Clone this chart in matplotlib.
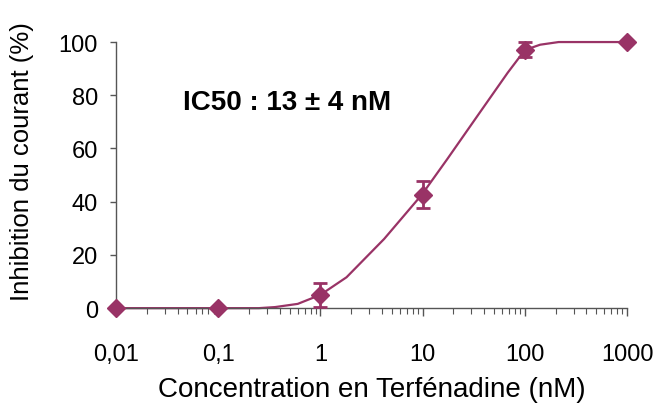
import numpy as np
import matplotlib.pyplot as plt
from matplotlib.ticker import LogLocator, FixedLocator, NullFormatter

plt.rcParams['font.family'] = ['Liberation Sans', 'DejaVu Sans']

# measured points
conc = [0.01, 0.1, 1, 10, 100, 1000]
inhib = [0, 0, 5, 42.6, 97.2, 100]
err = [0, 0, 4.4, 5.1, 3.0, 0]

# fitted curve
fit_conc = [0.01, 0.1, 0.25, 0.36, 0.6, 1.0, 1.8, 4.2, 9.8, 17.4, 34, 68, 100, 141, 214, 400, 1000]
fit_inhib = [0, 0, 0, 0.4, 1.6, 5, 11.6, 26, 42.6, 56, 72, 88.5, 97, 99, 100, 100, 100]

col = '#993366'
xticks = [0.01, 0.1, 1, 10, 100, 1000]
xticklabels = ['0,01', '0,1', '1', '10', '100', '1000']

fig = plt.figure(figsize=(6.65, 4.10), dpi=100)
ax = fig.add_axes([0.1744, 0.246, 0.7686, 0.649])

ax.plot(fit_conc, fit_inhib, color=col, lw=1.6, clip_on=False)
ax.errorbar(conc, inhib, yerr=err, fmt='D', color=col, ms=9, capsize=5,
            elinewidth=2, capthick=2, ecolor=col, clip_on=False, zorder=3)

ax.set_xscale('log')
ax.set_xlim(0.01, 1000)
ax.set_ylim(0, 100)
ax.xaxis.set_major_locator(FixedLocator(xticks))
ax.set_xticklabels(xticklabels)
ax.xaxis.set_minor_locator(LogLocator(base=10, subs=np.arange(2, 10)))
ax.xaxis.set_minor_formatter(NullFormatter())
ax.set_yticks([0, 20, 40, 60, 80, 100])

for s in ['top', 'right']:
    ax.spines[s].set_visible(False)
for s in ['left', 'bottom']:
    ax.spines[s].set_color('#555555')
    ax.spines[s].set_linewidth(1.0)

ax.tick_params(axis='x', which='major', direction='out', length=6, width=1,
               color='#555555', pad=19, labelsize=17)
ax.tick_params(axis='x', which='minor', direction='out', length=4, width=0.8,
               color='#555555')
ax.tick_params(axis='y', direction='out', length=4, width=1, color='#555555',
               pad=9, labelsize=17)

ax.set_xlabel('Concentration en Terfénadine (nM)', fontsize=20, labelpad=8)
ax.set_ylabel('Inhibition du courant (%)', fontsize=18.5)
ax.yaxis.set_label_coords(-0.16, 0.556)

ax.text(0.131, 0.774, 'IC50 : 13 ± 4 nM', transform=ax.transAxes,
        fontsize=20, fontweight='bold', va='center', ha='left')

fig.savefig('out.png', dpi=100)
